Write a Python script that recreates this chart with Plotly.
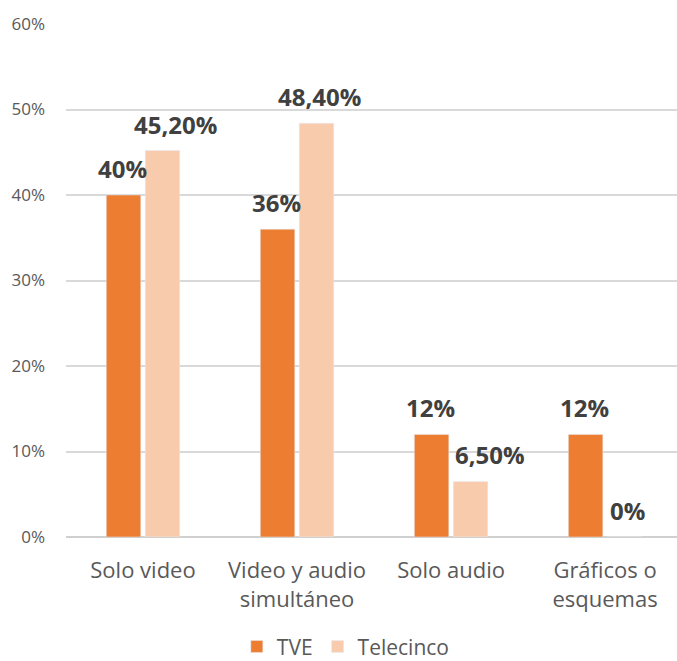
import plotly.graph_objects as go

# Categories and shares per channel (fractions)
categories = ["Solo video", "Video y audio<br>simultáneo", "Solo audio", "Gráficos o<br>esquemas"]
tve = [0.40, 0.36, 0.12, 0.12]
telecinco = [0.452, 0.484, 0.065, 0.0]
tve_labels = ["40%", "36%", "12%", "12%"]
telecinco_labels = ["45,20%", "48,40%", "6,50%", "0%"]
y_ticks = [0.0, 0.1, 0.2, 0.3, 0.4, 0.5, 0.6]
y_tick_text = ["0%", "10%", "20%", "30%", "40%", "50%", "60%"]

# Horizontal nudges (px) for the Telecinco value labels
tele_label_dx = [10, 0, 17, 0]

TVE_COLOR = "#ED7D31"
TELE_COLOR = "#F8CBAD"
LABEL_COLOR = "#404040"
AXIS_TEXT = "#595959"
FONT = "Open Sans"

fig = go.Figure()
fig.add_trace(go.Bar(name="TVE", x=categories, y=tve, marker_color=TVE_COLOR))
fig.add_trace(go.Bar(name="Telecinco", x=categories, y=telecinco, marker_color=TELE_COLOR))

# Value labels above each bar, centred on the bar slots within a group
label_font = dict(family=FONT, size=24, color=LABEL_COLOR, weight="bold")
annotations = []
for i in range(len(categories)):
    annotations.append(dict(
        x=i, y=tve[i], xref="x", yref="y", text=tve_labels[i],
        showarrow=False, yanchor="bottom", yshift=8, xshift=-21,
        font=label_font,
    ))
    annotations.append(dict(
        x=i, y=telecinco[i], xref="x", yref="y", text=telecinco_labels[i],
        showarrow=False, yanchor="bottom", yshift=8, xshift=22 + tele_label_dx[i],
        font=label_font,
    ))

fig.update_layout(
    width=677, height=661,
    margin=dict(l=66, r=0, t=24, b=124, autoexpand=False),
    paper_bgcolor="white", plot_bgcolor="white",
    barmode="group", bargap=0.494, bargroupgap=0.115,
    font=dict(family=FONT, color=AXIS_TEXT),
    xaxis=dict(
        type="category", range=[-0.5, 3.467],
        tickfont=dict(size=22, color=AXIS_TEXT),
        showgrid=False, showline=False, ticks="",
        ticklabelstandoff=18,
    ),
    yaxis=dict(
        range=[0, 0.6], tickvals=y_ticks, ticktext=y_tick_text,
        tickfont=dict(size=17, color=AXIS_TEXT),
        gridcolor="#D9D9D9", gridwidth=1.5,
        zeroline=True, zerolinecolor="#D0D0D0", zerolinewidth=1.5,
        ticks="", ticklabelstandoff=20,
    ),
    legend=dict(
        orientation="h", x=0.458, xanchor="center", y=-0.214, yanchor="middle",
        font=dict(size=21, color=AXIS_TEXT),
        itemwidth=30,
    ),
    annotations=annotations,
    showlegend=True,
)

fig.write_html("out.html")
